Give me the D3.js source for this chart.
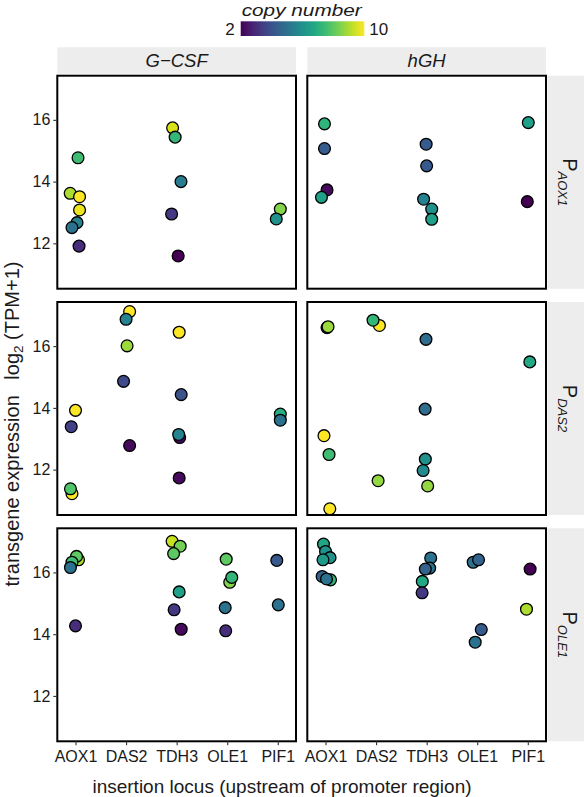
<!DOCTYPE html>
<html>
<head>
<meta charset="utf-8">
<script src="https://cdn.jsdelivr.net/npm/d3@7"></script>
<style>
  html, body { margin: 0; padding: 0; background: #fff; }
  svg { display: block; }
  text { font-family: "Liberation Sans", Arial, sans-serif; }
</style>
</head>
<body>
<svg id="chart" width="584" height="797"></svg>
<script>
// ---------------- data ----------------
const loci = ["AOX1", "DAS2", "TDH3", "OLE1", "PIF1"];
const proteins = ["G\u2212CSF", "hGH"];
const promoters = ["AOX1", "DAS2", "OLE1"];
const yTicks = [12, 14, 16];
const copyRange = [2, 10];
const copyLabels = ["2", "10"];

// each row: [insertion locus, horizontal jitter (category units), log2(TPM+1), copy number]
const gcsf_AOX1 = [
  ["AOX1", 0.05, 14.77, 7.5], ["AOX1", -0.105, 13.62, 9], ["AOX1", 0.08, 13.51, 10],
  ["AOX1", 0.08, 13.08, 9.8], ["AOX1", 0.03, 12.67, 5.5], ["AOX1", -0.07, 12.51, 5],
  ["AOX1", 0.07, 11.91, 3],
  ["TDH3", -0.08, 15.74, 9.5], ["TDH3", -0.03, 15.44, 7.3], ["TDH3", 0.086, 14.0, 5.3],
  ["TDH3", -0.1, 12.95, 3.3], ["TDH3", 0.03, 11.59, 2],
  ["PIF1", 0.05, 13.11, 8.5], ["PIF1", -0.03, 12.79, 6]
];
const hgh_AOX1 = [
  ["AOX1", -0.02, 15.87, 7.2], ["AOX1", -0.02, 15.07, 4.3], ["AOX1", 0.03, 13.73, 2.2],
  ["AOX1", -0.08, 13.49, 6.5],
  ["TDH3", -0.01, 15.21, 4.3], ["TDH3", 0.0, 14.51, 4.2], ["TDH3", -0.06, 13.43, 5.5],
  ["TDH3", 0.1, 13.11, 6], ["TDH3", 0.1, 12.78, 6.5],
  ["PIF1", 0.01, 15.91, 6.5], ["PIF1", -0.01, 13.35, 2]
];
const gcsf_DAS2 = [
  ["AOX1", 0.0, 13.92, 10], ["AOX1", -0.085, 13.39, 3.5], ["AOX1", -0.07, 11.22, 10],
  ["AOX1", -0.1, 11.38, 7.8],
  ["DAS2", 0.07, 17.12, 10], ["DAS2", 0.0, 16.87, 5.5], ["DAS2", 0.02, 16.01, 8.8],
  ["DAS2", -0.05, 14.86, 3.8], ["DAS2", 0.07, 12.78, 2.2],
  ["TDH3", 0.05, 16.45, 10], ["TDH3", 0.09, 14.43, 4], ["TDH3", 0.06, 13.04, 2.2],
  ["TDH3", 0.04, 13.14, 5.5], ["TDH3", 0.05, 11.73, 2.2],
  ["PIF1", 0.05, 13.8, 7], ["PIF1", 0.05, 13.6, 5]
];
const hgh_DAS2 = [
  ["AOX1", 0.03, 16.6, 2], ["AOX1", 0.05, 16.63, 8.8], ["AOX1", -0.03, 13.1, 10],
  ["AOX1", 0.07, 12.49, 7.5], ["AOX1", 0.085, 10.73, 10],
  ["DAS2", 0.066, 16.67, 10], ["DAS2", -0.06, 16.84, 7.3], ["DAS2", 0.04, 11.64, 8.7],
  ["TDH3", -0.013, 16.22, 4.8], ["TDH3", -0.03, 13.96, 4.8], ["TDH3", -0.026, 12.34, 6],
  ["TDH3", -0.07, 11.97, 5.8], ["TDH3", 0.02, 11.47, 8.7],
  ["PIF1", 0.04, 15.49, 6.8]
];
const gcsf_OLE1 = [
  ["AOX1", 0.06, 16.41, 9], ["AOX1", 0.02, 16.52, 8], ["AOX1", -0.07, 16.33, 7.5],
  ["AOX1", -0.1, 16.16, 5], ["AOX1", 0.0, 14.27, 3],
  ["TDH3", -0.09, 17.01, 9.3], ["TDH3", 0.07, 16.85, 8.3], ["TDH3", -0.06, 16.61, 8],
  ["TDH3", 0.05, 15.37, 6.5], ["TDH3", -0.05, 14.79, 3.3], ["TDH3", 0.09, 14.16, 2.2],
  ["OLE1", -0.02, 16.43, 8], ["OLE1", 0.05, 15.68, 8.5], ["OLE1", 0.09, 15.84, 7.3],
  ["OLE1", -0.04, 14.86, 5], ["OLE1", -0.03, 14.11, 3],
  ["PIF1", -0.02, 16.39, 4.2], ["PIF1", 0.01, 14.95, 5]
];
const hgh_OLE1 = [
  ["AOX1", -0.04, 16.92, 6.7], ["AOX1", 0.0, 16.68, 6], ["AOX1", 0.09, 16.48, 6],
  ["AOX1", -0.05, 16.41, 6.3], ["AOX1", 0.1, 15.76, 7.3], ["AOX1", -0.066, 15.87, 4.5],
  ["AOX1", 0.02, 15.79, 5],
  ["TDH3", 0.08, 16.47, 5], ["TDH3", 0.06, 16.14, 5], ["TDH3", -0.026, 16.11, 4.5],
  ["TDH3", -0.086, 15.71, 6.8], ["TDH3", -0.09, 15.34, 3.3],
  ["OLE1", -0.08, 16.33, 5], ["OLE1", 0.026, 16.41, 4.5], ["OLE1", 0.08, 14.15, 4.3],
  ["OLE1", -0.04, 13.74, 5],
  ["PIF1", 0.046, 16.11, 2], ["PIF1", -0.026, 14.81, 9]
];

const panelData = [
  [gcsf_AOX1, hgh_AOX1],
  [gcsf_DAS2, hgh_DAS2],
  [gcsf_OLE1, hgh_OLE1]
];

// ---------------- layout ----------------
const svg = d3.select("#chart");
const colLeft = [57.3, 307.3];
const panelW = 238.7;
const rowTop = [75.7, 302, 528.3];
const panelH = 213;
const font = '"Liberation Sans", Arial, sans-serif';
const textCol = "#1a1a1a";

const xScale = d3.scaleLinear().domain([-0.36, loci.length - 1 + 0.36]).range([0, panelW]);
const yScale = d3.scaleLinear().domain([10.53, 17.43]).range([panelH, 0]);
const color = d3.scaleSequential(d3.interpolateViridis).domain(copyRange);

// top strips
proteins.forEach((p, c) => {
  const g = svg.append("g").attr("transform", `translate(${colLeft[c]},47.3)`);
  g.append("rect").attr("width", panelW).attr("height", 26.4).attr("fill", "#ededed");
  g.append("text").attr("x", panelW / 2).attr("y", 13.5).attr("dy", "0.35em")
    .attr("text-anchor", "middle").attr("font-size", 18.5).attr("font-style", "italic")
    .attr("fill", textCol).text(p);
});

// right strips
promoters.forEach((p, r) => {
  const g = svg.append("g").attr("transform", `translate(547.5,${rowTop[r]})`);
  g.append("rect").attr("width", 37).attr("height", panelH).attr("fill", "#ededed");
  const t = g.append("text")
    .attr("transform", `translate(15.5,${panelH / 2}) rotate(90)`)
    .attr("text-anchor", "middle").attr("fill", textCol);
  t.append("tspan").attr("font-size", 20).text("P");
  t.append("tspan").attr("font-size", 13).attr("font-style", "italic").attr("dy", 5).text(p);
});

// panels
panelData.forEach((row, r) => {
  row.forEach((pts, c) => {
    const g = svg.append("g").attr("transform", `translate(${colLeft[c]},${rowTop[r]})`);
    g.append("rect").attr("width", panelW).attr("height", panelH).attr("fill", "#fff");
    g.selectAll("circle").data(pts).enter().append("circle")
      .attr("cx", d => xScale(loci.indexOf(d[0]) + d[1]))
      .attr("cy", d => yScale(d[2]))
      .attr("r", 5.9)
      .attr("fill", d => color(d[3]))
      .attr("stroke", "#000").attr("stroke-width", 1.3);
    g.append("rect").attr("width", panelW).attr("height", panelH)
      .attr("fill", "none").attr("stroke", "#000").attr("stroke-width", 2);

    if (c === 0) {
      const ax = g.append("g").call(d3.axisLeft(yScale).tickValues(yTicks).tickSize(4).tickPadding(3).tickFormat(d3.format("d")));
      ax.select(".domain").remove();
      ax.selectAll("line").attr("stroke", "#333").attr("stroke-width", 1.1);
      ax.selectAll("text").attr("font-size", 16).attr("font-family", font).attr("fill", textCol);
    }
    if (r === 2) {
      const ax = g.append("g").attr("transform", `translate(0,${panelH})`)
        .call(d3.axisBottom(xScale).tickValues(d3.range(loci.length)).tickSize(4).tickPadding(5)
          .tickFormat(i => loci[i]));
      ax.select(".domain").remove();
      ax.selectAll("line").attr("stroke", "#333").attr("stroke-width", 1.1);
      ax.selectAll("text").attr("font-size", 16).attr("font-family", font).attr("fill", textCol);
    }
  });
});

// axis titles
svg.append("text").attr("x", 282).attr("y", 793).attr("text-anchor", "middle")
  .attr("font-size", 19).attr("fill", textCol)
  .text("insertion locus (upstream of promoter region)");

const yt = svg.append("text").attr("transform", "translate(18.8,424) rotate(-90)")
  .attr("text-anchor", "middle").attr("font-size", 20).attr("fill", textCol);
yt.append("tspan").text("transgene expression\u2002 log");
yt.append("tspan").attr("font-size", 13.5).attr("dy", 4).text("2");
yt.append("tspan").attr("dy", -4).text(" (TPM+1)");

// legend
svg.append("text").attr("x", 241.7).attr("y", 16).attr("text-anchor", "start")
  .attr("font-size", 17).attr("font-style", "italic").attr("fill", textCol)
  .attr("textLength", 120).attr("lengthAdjust", "spacingAndGlyphs").text("copy number");

const defs = svg.append("defs");
const grad = defs.append("linearGradient").attr("id", "vir").attr("x1", "0%").attr("x2", "100%");
d3.range(0, 1.0001, 0.1).forEach(t => {
  grad.append("stop").attr("offset", `${t * 100}%`).attr("stop-color", d3.interpolateViridis(t));
});
const barX = d3.scaleLinear().domain(copyRange).range([240.7, 364.3]);
svg.append("rect").attr("x", barX(copyRange[0])).attr("y", 21.3)
  .attr("width", barX(copyRange[1]) - barX(copyRange[0])).attr("height", 14.7)
  .attr("fill", "url(#vir)");
svg.append("text").attr("x", barX(copyRange[0]) - 6).attr("y", 28.7).attr("dy", "0.35em")
  .attr("text-anchor", "end").attr("font-size", 17).attr("fill", textCol).text(copyLabels[0]);
svg.append("text").attr("x", barX(copyRange[1]) + 5).attr("y", 28.7).attr("dy", "0.35em")
  .attr("text-anchor", "start").attr("font-size", 17).attr("fill", textCol).text(copyLabels[1]);
</script>
</body>
</html>
